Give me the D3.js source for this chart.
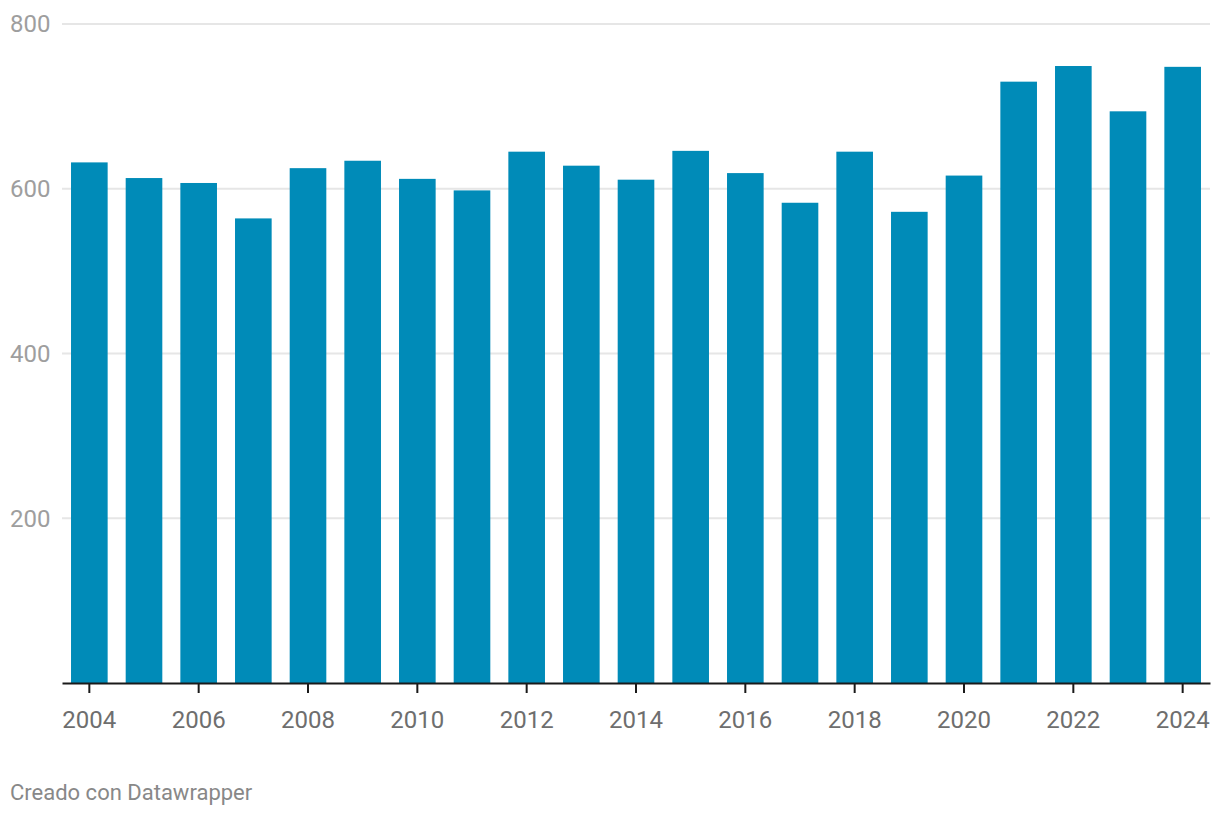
<!DOCTYPE html>
<html>
<head>
<meta charset="utf-8">
<script src="https://cdn.jsdelivr.net/npm/d3@7"></script>
<style>
  body { margin: 0; background: #fff; font-family: Roboto, "Noto Sans", sans-serif; }
  .grid line { stroke: #e6e6e6; stroke-width: 2px; }
  .axis--x text { fill: #6e6e6e; font-size: 24px; font-family: Roboto, sans-serif; }
  .axis--y text { fill: #9e9e9e; font-size: 24px; font-family: Roboto, sans-serif; }
  .footer { fill: #888; font-size: 22px; font-family: Roboto, sans-serif; }
</style>
</head>
<body>
<div id="chart"></div>
<script>
var years = ["2004", "2005", "2006", "2007", "2008", "2009", "2010", "2011", "2012", "2013", "2014",
    "2015", "2016", "2017", "2018", "2019", "2020", "2021", "2022", "2023", "2024"];
var values = [632, 613, 607, 564, 625, 634, 612, 598, 645, 628, 611,
    646, 619, 583, 645, 572, 616, 730, 749, 694, 748];
var yTicks = [200, 400, 600, 800];
var xTicks = ["2004", "2006", "2008", "2010", "2012", "2014", "2016", "2018", "2020", "2022", "2024"];

var data = years.map(function (d, i) {
    return {year: d, value: values[i]};
});

var width = 1220, height = 816;
var margin = {left: 62, right: 1210, top: 24, bottom: 683};

var svg = d3.select("#chart").append("svg")
    .attr("width", width)
    .attr("height", height);

var x = d3.scaleBand()
    .domain(years)
    .range([margin.left, margin.right])
    .paddingInner(0.33)
    .paddingOuter(0.165);

var y = d3.scaleLinear()
    .domain([0, 800])
    .range([margin.bottom, margin.top]);

// gridlines
svg.append("g")
    .attr("class", "grid")
    .selectAll("line")
    .data(yTicks)
    .enter().append("line")
    .attr("x1", margin.left)
    .attr("x2", margin.right)
    .attr("y1", function (d) { return y(d); })
    .attr("y2", function (d) { return y(d); });

// y labels, left aligned at the page edge
svg.append("g")
    .attr("class", "axis axis--y")
    .selectAll("text")
    .data(yTicks)
    .enter().append("text")
    .attr("x", 10)
    .attr("y", function (d) { return y(d); })
    .attr("dy", "0.35em")
    .text(function (d) { return d; });

svg.append("g")
    .selectAll("rect")
    .data(data)
    .enter().append("rect")
    .attr("x", function (d) { return x(d.year); })
    .attr("width", x.bandwidth())
    .attr("y", function (d) { return y(d.value); })
    .attr("height", function (d) { return y(0) - y(d.value); })
    .attr("fill", "#008bb8");

var xAxis = svg.append("g")
    .attr("class", "axis axis--x")
    .attr("transform", "translate(0," + margin.bottom + ")")
    .call(d3.axisBottom(x).tickValues(xTicks).tickSize(10).tickSizeOuter(0).tickPadding(18));

xAxis.attr("font-family", null).attr("font-size", null);
xAxis.select(".domain").attr("stroke", "#1a1a1a").attr("stroke-width", 2);
xAxis.selectAll(".tick line").attr("stroke", "#1a1a1a").attr("stroke-width", 2);

svg.append("text")
    .attr("class", "footer")
    .attr("x", 10)
    .attr("y", 800)
    .text("Creado con Datawrapper");
</script>
</body>
</html>
